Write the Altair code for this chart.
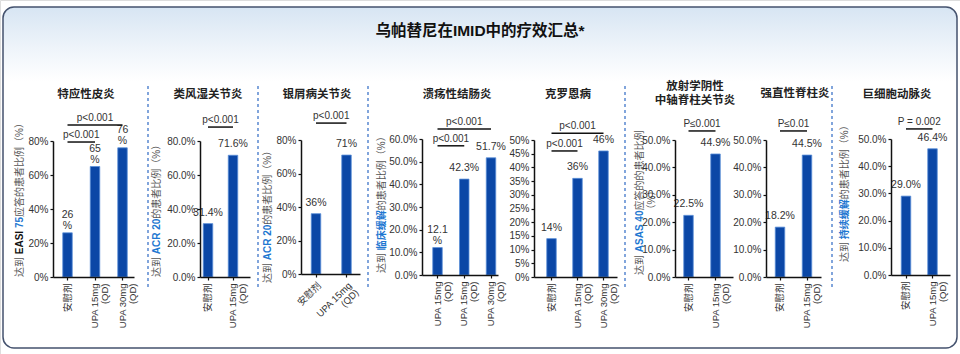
import altair as alt
import pandas as pd

W, H = 960, 354
FONT = "Liberation Sans, Arial, Noto Sans CJK SC, sans-serif"

# ------------------------------------------------------------------ data
TITLE = "乌帕替尼在IMID中的疗效汇总*"

AD_NAME = ["特应性皮炎"]
AD_CATS = ["安慰剂", "UPA 15mg|(QD)", "UPA 30mg|(QD)"]
AD_VALUES = [26, 65, 76]
AD_LABELS = ["26\n%", "65\n%", "76\n%"]
AD_P = [("安慰剂", "UPA 15mg|(QD)", "p<0.001"), ("安慰剂", "UPA 30mg|(QD)", "p<0.001")]
AD_YTITLE = [("达到 ", "grey"), ("EASI ", "dark"), ("75", "blue"), (" 应答的患者比例（%）", "grey")]

RA_NAME = ["类风湿关节炎"]
RA_CATS = ["安慰剂", "UPA 15mg|(QD)"]
RA_VALUES = [31.4, 71.6]
RA_LABELS = ["31.4%", "71.6%"]
RA_P = [("安慰剂", "UPA 15mg|(QD)", "p<0.001")]
RA_YTITLE = [("达到 ", "grey"), ("ACR 20", "blue"), ("的患者比例（%）", "grey")]

PSA_NAME = ["银屑病关节炎"]
PSA_CATS = ["安慰剂", "UPA 15mg|(QD)"]
PSA_VALUES = [36, 71]
PSA_LABELS = ["36%", "71%"]
PSA_P = [("安慰剂", "UPA 15mg|(QD)", "p<0.001")]
PSA_YTITLE = [("达到 ", "grey"), ("ACR 20", "blue"), ("的患者比例（%）", "grey")]

UC_NAME = ["溃疡性结肠炎"]
UC_CATS = ["UPA 15mg|(QD) ", "UPA 15mg|(QD)", "UPA 30mg|(QD)"]
UC_VALUES = [12.1, 42.3, 51.7]
UC_LABELS = ["12.1\n%", "42.3%", "51.7%"]
UC_P = [("UPA 15mg|(QD) ", "UPA 15mg|(QD)", "p<0.001"), ("UPA 15mg|(QD) ", "UPA 30mg|(QD)", "p<0.001")]
UC_YTITLE = [("达到 ", "grey"), ("临床缓解", "blue"), ("的患者比例（%）", "grey")]

CD_NAME = ["克罗恩病"]
CD_CATS = ["安慰剂", "UPA 15mg|(QD)", "UPA 30mg|(QD)"]
CD_VALUES = [14, 36, 46]
CD_LABELS = ["14%", "36%", "46%"]
CD_P = [("安慰剂", "UPA 15mg|(QD)", "p<0.001"), ("安慰剂", "UPA 30mg|(QD)", "p<0.001")]
CD_YTITLE = []

NRAX_NAME = ["放射学阴性", "中轴脊柱关节炎"]
NRAX_CATS = ["安慰剂", "UPA 15mg|(QD)"]
NRAX_VALUES = [22.5, 44.9]
NRAX_LABELS = ["22.5%", "44.9%"]
NRAX_P = [("安慰剂", "UPA 15mg|(QD)", "P≤0.001")]
NRAX_YTITLE = [("达到 ", "grey"), ("ASAS 40", "blue"), (" 应答的的患者比例", "grey")]
NRAX_YTITLE2 = "（%）"

AS_NAME = ["强直性脊柱炎"]
AS_CATS = ["安慰剂", "UPA 15mg|(QD)"]
AS_VALUES = [18.2, 44.5]
AS_LABELS = ["18.2%", "44.5%"]
AS_P = [("安慰剂", "UPA 15mg|(QD)", "P≤0.01")]
AS_YTITLE = []

GCA_NAME = ["巨细胞动脉炎"]
GCA_CATS = ["安慰剂", "UPA 15mg|(QD)"]
GCA_VALUES = [29.0, 46.4]
GCA_LABELS = ["29.0%", "46.4%"]
GCA_P = [("安慰剂", "UPA 15mg|(QD)", "P = 0.002")]
GCA_YTITLE = [("达到 ", "grey"), ("持续缓解", "blue"), ("的患者比例（%）", "grey")]

# ------------------------------------------------------------------ style / layout
BAR = "#0b47a6"
BAR_EDGE = "#5a8fd8"
TXT = "#333333"
AXC = "#111111"
SEG_COLORS = {"grey": "#555555", "dark": "#111111", "blue": "#1f78d1"}
SEP_COLOR = "#3f76c9"
LABEL_LH = 11

PANELS = [
    dict(name=AD_NAME, cats=AD_CATS, vals=AD_VALUES, labs=AD_LABELS, p=AD_P, yt=AD_YTITLE,
         x0=53, x1=134, centers=[67.5, 95, 122.5], ybot=277, ytop=141, ymax=80, ystep=20, fmt="d",
         angle=270, plev=[79.4, 89.4], tx=86, ty=[95], ytx=20, ytb=277),
    dict(name=RA_NAME, cats=RA_CATS, vals=RA_VALUES, labs=RA_LABELS, p=RA_P, yt=RA_YTITLE,
         x0=200, x1=250, centers=[208, 233], ybot=277, ytop=141, ymax=80, ystep=20, fmt=".1f",
         angle=270, plev=[88.2], tx=208, ty=[95], ytx=157, ytb=277),
    dict(name=PSA_NAME, cats=PSA_CATS, vals=PSA_VALUES, labs=PSA_LABELS, p=PSA_P, yt=PSA_YTITLE,
         x0=301, x1=360, centers=[316, 346.5], ybot=274, ytop=140, ymax=80, ystep=20, fmt="d",
         angle=315, plev=[90.1], tx=317, ty=[95], ytx=268, ytb=283),
    dict(name=UC_NAME, cats=UC_CATS, vals=UC_VALUES, labs=UC_LABELS, p=UC_P, yt=UC_YTITLE,
         x0=422, x1=498, centers=[437.5, 464.5, 491], ybot=275, ytop=139, ymax=60, ystep=10, fmt=".1f",
         angle=270, plev=[57.0, 64.4], tx=457, ty=[95], ytx=382, ytb=273),
    dict(name=CD_NAME, cats=CD_CATS, vals=CD_VALUES, labs=CD_LABELS, p=CD_P, yt=CD_YTITLE,
         x0=534, x1=617, centers=[551.5, 577, 603.5], ybot=277, ytop=140, ymax=50, ystep=5, fmt="d",
         angle=270, plev=[46.0, 52.5], tx=568, ty=[95], ytx=0, ytb=0),
    dict(name=NRAX_NAME, cats=NRAX_CATS, vals=NRAX_VALUES, labs=NRAX_LABELS, p=NRAX_P, yt=NRAX_YTITLE,
         x0=675, x1=733, centers=[688.5, 715.5], ybot=277, ytop=140, ymax=50, ystep=10, fmt=".1f",
         angle=270, plev=[53.3], tx=695, ty=[87, 101], ytx=640, ytb=275),
    dict(name=AS_NAME, cats=AS_CATS, vals=AS_VALUES, labs=AS_LABELS, p=AS_P, yt=AS_YTITLE,
         x0=766, x1=821, centers=[780, 807], ybot=277, ytop=140, ymax=50, ystep=10, fmt=".1f",
         angle=270, plev=[53.3], tx=795, ty=[94], ytx=0, ytb=0),
    dict(name=GCA_NAME, cats=GCA_CATS, vals=GCA_VALUES, labs=GCA_LABELS, p=GCA_P, yt=GCA_YTITLE,
         x0=891, x1=950, centers=[906, 932.5], ybot=275, ytop=139, ymax=50, ystep=10, fmt=".1f",
         angle=270, plev=[53.7], tx=897, ty=[95], ytx=845, ytb=262),
]
SEPARATORS_X = [148, 258, 368, 625, 832]
YT_FS = 10


def band_params(x0, x1, centers):
    n = len(centers)
    step = (centers[-1] - centers[0]) / (n - 1)
    lg = centers[0] - x0
    rg = x1 - centers[-1]
    h = max(0.5, min(lg, rg, step / 2))
    pi = 1 - 2 * h / step
    extra = lg + rg - 2 * h
    po = max(0.0, extra / step / 2)
    al = (lg - h) / extra if extra > 0 else 0.5
    return step, pi, po, al


def text_width(s, fs, bold=False):
    reg = {"E": .667, "A": .667, "S": .667, "I": .278, "C": .722, "R": .722, " ": .278, "%": .889}
    bld = {"E": .667, "A": .722, "S": .667, "I": .278, "C": .722, "R": .722, " ": .278, "%": .889}
    w = 0.0
    for ch in s:
        if ord(ch) >= 0x2E80:
            w += 1.0
        elif ch.isdigit():
            w += .556
        else:
            w += (bld if bold else reg).get(ch, .55)
    return w * fs


one = alt.Data(values=[{}])


def panel_chart(c):
    step, pi, po, al = band_params(c["x0"], c["x1"], c["centers"])
    xs = alt.Scale(domain=c["cats"], range=[c["x0"], c["x1"]], paddingInner=pi,
                   paddingOuter=po, align=al)
    ys = alt.Scale(domain=[0, c["ymax"]], range=[c["ybot"], c["ytop"]], nice=False, zero=False)
    if c["fmt"] == "d":
        lexpr = "datum.value + '%'"
    else:
        lexpr = "format(datum.value, '.1f') + '%'"
    xaxis = alt.Axis(orient="bottom", offset=c["ybot"] - H, title=None, grid=False, zindex=1,
                     labelAngle=c["angle"], labelExpr="split(datum.label, '|')",
                     labelFont=FONT, labelFontSize=9.5, labelColor=TXT, labelPadding=3,
                     labelLineHeight=10, labelOverlap=False, labelLimit=0,
                     tickSize=3, tickColor=AXC, tickWidth=1.2, domainColor=AXC, domainWidth=1.5)
    yaxis = alt.Axis(orient="left", offset=-c["x0"], title=None, grid=False, zindex=1,
                     values=list(range(0, c["ymax"] + 1, c["ystep"])), labelExpr=lexpr,
                     labelFont=FONT, labelFontSize=10, labelColor=TXT, labelPadding=2,
                     labelOverlap=False, labelFlush=False,
                     tickSize=3, tickColor=AXC, tickWidth=1.2, domainColor=AXC, domainWidth=1.5)
    X = lambda f: alt.X(f, scale=xs, axis=xaxis, sort=None)
    Y = lambda f: alt.Y(f, scale=ys, axis=yaxis)
    df = pd.DataFrame({"cat": c["cats"], "val": c["vals"], "lab": c["labs"]})
    df["nl"] = df["lab"].str.count("\n")
    bars = alt.Chart(df).mark_bar(width=9.5, color=BAR, stroke=BAR_EDGE, strokeWidth=0.8).encode(
        x=X("cat:N"), y=Y("val:Q"))
    layers = [bars]
    for nl in sorted(df["nl"].unique()):
        sub = df[df["nl"] == nl]
        dy = -6 if nl == 0 else -2 - LABEL_LH * int(nl)
        layers.append(alt.Chart(sub).mark_text(baseline="bottom", dy=dy,
                                               lineBreak="\n", font=FONT, fontSize=10.5, color=TXT,
                                               lineHeight=LABEL_LH).encode(
            x=X("cat:N"), y=Y("val:Q"), text="lab:N"))
    pdf = pd.DataFrame({"cat": [p[0] for p in c["p"]], "b": [p[1] for p in c["p"]],
                        "t": [p[2] for p in c["p"]], "val": c["plev"]})
    rules = alt.Chart(pdf).mark_rule(color=AXC, strokeWidth=1.5).encode(
        x=X("cat:N"), x2="b:N", y=Y("val:Q"))
    layers.append(rules)
    for i, p in enumerate(c["p"]):
        ia, ib = c["cats"].index(p[0]), c["cats"].index(p[1])
        sub = pdf.iloc[[i]]
        t = alt.Chart(sub).mark_text(baseline="bottom", dy=-2, dx=step * (ib - ia) / 2,
                                     font=FONT, fontSize=10, color=TXT).encode(
            x=X("cat:N"), y=Y("val:Q"), text="t:N")
        layers.append(t)
    return layers


# ------------------------------------------------------------------ decorations
grad = alt.Gradient(gradient="linear",
                    stops=[alt.GradientStop(color="#d7e5f3", offset=0),
                           alt.GradientStop(color="#eef4fa", offset=0.12),
                           alt.GradientStop(color="#ffffff", offset=0.22)],
                    x1=0, x2=0, y1=0, y2=1)
frame = alt.Chart(one).mark_rect(fill=grad, stroke="#44526e", strokeWidth=1.5, cornerRadius=11).encode(
    x=alt.value(3), x2=alt.value(957), y=alt.value(7), y2=alt.value(348))

title = alt.Chart(one).mark_text(text=TITLE, font=FONT, fontSize=15.5, fontWeight="bold",
                                 color="#111111").encode(x=alt.value(480), y=alt.value(31))

deco = [frame, title]
for sx in SEPARATORS_X:
    deco.append(alt.Chart(one).mark_rule(color=SEP_COLOR, strokeWidth=1.3, strokeDash=[3, 3]).encode(
        x=alt.value(sx), y=alt.value(86), y2=alt.value(288)))

for c in PANELS:
    for line, ty in zip(c["name"], c["ty"]):
        deco.append(alt.Chart(one).mark_text(text=line, font=FONT, fontSize=11.5, fontWeight="bold",
                                             color="#222222").encode(x=alt.value(c["tx"]), y=alt.value(ty)))
    ypos = c["ytb"]
    for seg, col in c["yt"]:
        bold = col != "grey"
        deco.append(alt.Chart(one).mark_text(text=seg, font=FONT, fontSize=YT_FS,
                                             fontWeight="bold" if bold else "normal",
                                             color=SEG_COLORS[col], angle=270, align="left",
                                             baseline="middle").encode(
            x=alt.value(c["ytx"]), y=alt.value(ypos)))
        ypos -= text_width(seg, YT_FS, bold)

deco.append(alt.Chart(one).mark_text(text=NRAX_YTITLE2, font=FONT, fontSize=YT_FS, color=SEG_COLORS["grey"],
                                     angle=270, align="center", baseline="middle").encode(
    x=alt.value(652), y=alt.value(200)))

panels = [alt.layer(*panel_chart(c)) for c in PANELS]

chart = alt.layer(*deco, *panels).resolve_scale(
    x="independent", y="independent"
).properties(
    width=W, height=H, autosize=alt.AutoSizeParams(type="none"), padding=0
).configure_view(stroke=None).configure(background="white")

chart.save("out.html", embed_options={"renderer": "svg", "actions": False})
